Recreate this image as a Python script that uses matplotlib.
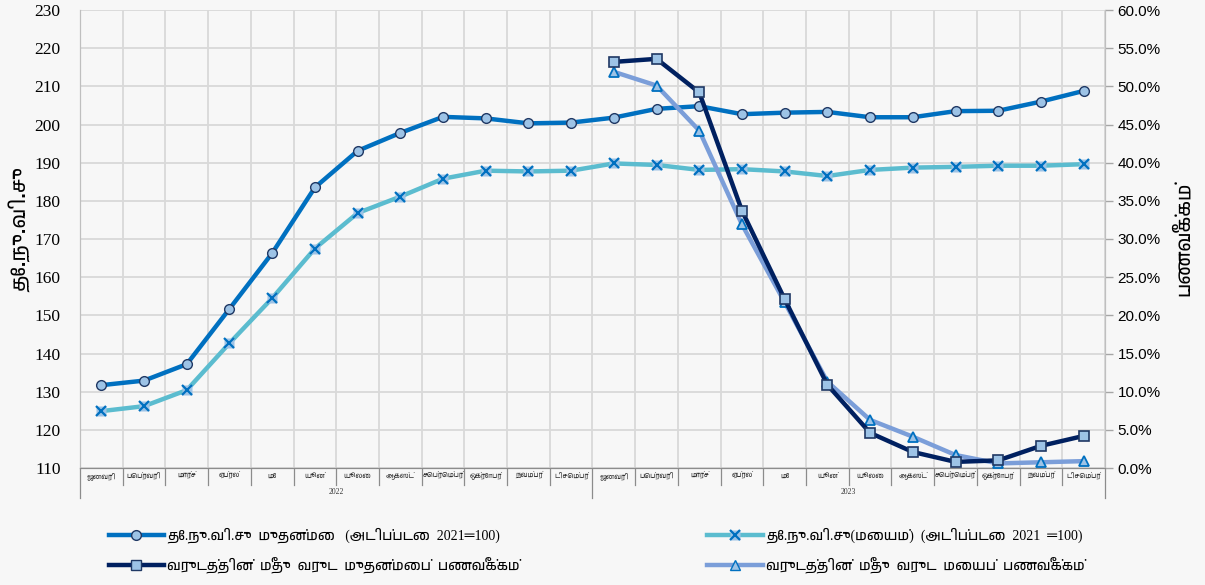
"""CCPI headline / core index (left) and y-o-y inflation (right), Jan 2022 - Dec 2023.
Out: out.png
"""
import matplotlib
matplotlib.use("Agg")
import matplotlib.pyplot as plt
import matplotlib.transforms as mtransforms
from matplotlib import font_manager
from matplotlib.legend_handler import HandlerTuple
from matplotlib.lines import Line2D
import numpy as np

months = ["ஜனவரி", "பெப்ரவரி", "மார்ச்", "ஏப்ரல்", "மே", "யூன்",
          "யூலை", "ஆகஸ்ட்", "செப்ரெம்பர்", "ஒக்ரோபர்", "நவம்பர்", "டிசெம்பர்"]
years = ["2022", "2023"]

ccpi_headline = [131.7, 132.9, 137.2, 151.7, 166.3, 183.5, 193.1, 197.8, 202.0, 201.6, 200.3, 200.5,
                 201.8, 204.1, 204.8, 202.7, 203.1, 203.3, 201.9, 201.9, 203.5, 203.6, 206.0, 208.8]
ccpi_core = [124.9, 126.2, 130.4, 142.7, 154.5, 167.5, 176.8, 181.1, 185.8, 187.9, 187.7, 187.9,
             189.8, 189.4, 188.1, 188.3, 187.7, 186.5, 188.1, 188.7, 188.9, 189.2, 189.2, 189.6]
# y-o-y inflation (%), only available for 2023
yoy_headline = [np.nan] * 12 + [53.2, 53.6, 49.2, 33.7, 22.1, 10.9, 4.6, 2.1, 0.8, 1.0, 2.9, 4.2]
yoy_core = [np.nan] * 12 + [51.9, 50.1, 44.2, 31.9, 21.7, 11.3, 6.3, 4.1, 1.7, 0.6, 0.75, 0.9]
pct_ticks = np.arange(0, 60.1, 5)

lbl_headline = "தே.நு.வி.சு  முதன்மை   (அடிப்படை  2021\u2550100)"
lbl_core = "தே.நு.வி.சு(மையம்)  (அடிப்படை  2021  \u2550100)"
lbl_yoy_headline = "வருடத்தின்  மீது  வருட  முதன்மைப்  பணவீக்கம்"
lbl_yoy_core = "வருடத்தின்  மீது  வருட  மையப்  பணவீக்கம்"
ylabel_left = "தே.நு.வி.சு"
ylabel_right = "பணவீக்கம்"

# pick up a Tamil-capable family if one happens to be installed (used as glyph fallback)
tamil = sorted({f.name for f in font_manager.fontManager.ttflist if "tamil" in f.name.lower()})
SERIF = ["Liberation Serif"] + tamil + ["DejaVu Serif"]
SANS = ["Liberation Sans"] + tamil + ["DejaVu Sans"]
BG = "#f7f7f7"

fig = plt.figure(figsize=(12.05, 5.85), dpi=100, facecolor=BG)
ax = fig.add_axes([80 / 1205, 1 - 468 / 585, 1025 / 1205, 458 / 585], facecolor=BG)
ax2 = ax.twinx()

n = len(ccpi_headline)
x = np.arange(n)

ax.plot(x, ccpi_headline, "-o", color="#0070c0", lw=3.2, ms=7, mfc="#9dc3e6", mec="#1f3864", mew=1.0, zorder=4)
ax.plot(x, ccpi_core, "-", color="#5bbccf", lw=3.2, zorder=3)
ax.plot(x, ccpi_core, "s", ms=6.5, mfc="#9dc3e6", mec="none", zorder=4)
ax.plot(x, ccpi_core, "x", ms=7, color="#0070c0", mew=1.6, zorder=5)

ax2.plot(x, yoy_core, "-^", color="#7b9ed9", lw=3.2, ms=7.5, mfc="#9dc3e6", mec="#0070c0", mew=1.3, zorder=4)
ax2.plot(x, yoy_headline, "-s", color="#002060", lw=3.2, ms=7, mfc="#9dc3e6", mec="#1f3864", mew=1.2, zorder=5)

ax.set_xlim(-0.5, n - 0.5)
ax.set_ylim(110, 230)
ax.set_yticks(np.arange(110, 231, 10))
ax2.set_ylim(0, 60)
ax2.set_yticks(pct_ticks)
ax2.set_yticklabels([f"{v:.1f}%" for v in pct_ticks])

ax.set_xticks(np.arange(-0.5, n, 1))
ax.set_xticklabels([])
ax.tick_params(axis="x", length=0)
ax.grid(True, color="#d9d9d9", lw=1.3)
ax.set_axisbelow(True)
ax.tick_params(axis="y", length=0, pad=14, labelsize=12.5)
for t in ax.get_yticklabels():
    t.set_family(SERIF)
ax2.tick_params(axis="y", length=6, width=1, color="#a6a6a6", pad=3, labelsize=11)
for t in ax2.get_yticklabels():
    t.set_family(SANS)

for a in (ax, ax2):
    for s in a.spines.values():
        s.set_color("#bfbfbf")
    a.spines["bottom"].set_color("#8c8c8c")
    a.spines["top"].set_visible(False)

ax.set_ylabel(ylabel_left, family=SANS, fontsize=14.5, fontweight="bold")
ax.yaxis.set_label_coords(-0.048, 0.52)
ax2.set_ylabel(ylabel_right, family=SANS, fontsize=14, fontweight="bold")
ax2.yaxis.set_label_coords(1.068, 0.5)

# two-level category axis: months in boxes, years underneath
trans = mtransforms.blended_transform_factory(ax.transData, ax.transAxes)
m_bot, y_bot = -0.037, -0.066
for i in range(n + 1):
    b = i - 0.5
    bottom = y_bot if i % 12 == 0 else m_bot
    ax.plot([b, b], [0, bottom], color="#8c8c8c", lw=0.9, transform=trans, clip_on=False)
for i in range(n):
    ax.text(i, -0.018, months[i % 12], transform=trans, ha="center", va="center",
            fontsize=5, family=SANS, color="#333333")
for j, yr in enumerate(years):
    ax.text(j * 12 + 5.5, -0.052, yr, transform=trans, ha="center", va="center",
            fontsize=5.5, family=SERIF, color="#333333")

# legend: two columns placed like the original
h_head = Line2D([], [], color="#0070c0", lw=3.2, marker="o", ms=7, mfc="#9dc3e6", mec="#1f3864")
h_core = (Line2D([], [], color="#5bbccf", lw=3.2, marker="s", ms=6.5, mfc="#9dc3e6", mec="none"),
          Line2D([], [], ls="none", marker="x", ms=7, color="#0070c0", mew=1.6))
h_yh = Line2D([], [], color="#002060", lw=3.2, marker="s", ms=7, mfc="#9dc3e6", mec="#1f3864")
h_yc = Line2D([], [], color="#7b9ed9", lw=3.2, marker="^", ms=7.5, mfc="#9dc3e6", mec="#0070c0")
kw = dict(frameon=False, handlelength=4.0, handletextpad=0.2, labelspacing=1.0,
          prop={"family": SERIF, "size": 10}, handler_map={tuple: HandlerTuple(ndivide=1)})
fig.legend([h_head, h_yh], [lbl_headline, lbl_yoy_headline], loc="upper left",
           bbox_to_anchor=(96 / 1205, 1 - 515 / 585), **kw)
fig.legend([h_core, h_yc], [lbl_core, lbl_yoy_core], loc="upper left",
           bbox_to_anchor=(695 / 1205, 1 - 515 / 585), **kw)

fig.savefig("out.png", dpi=100, facecolor=BG)
